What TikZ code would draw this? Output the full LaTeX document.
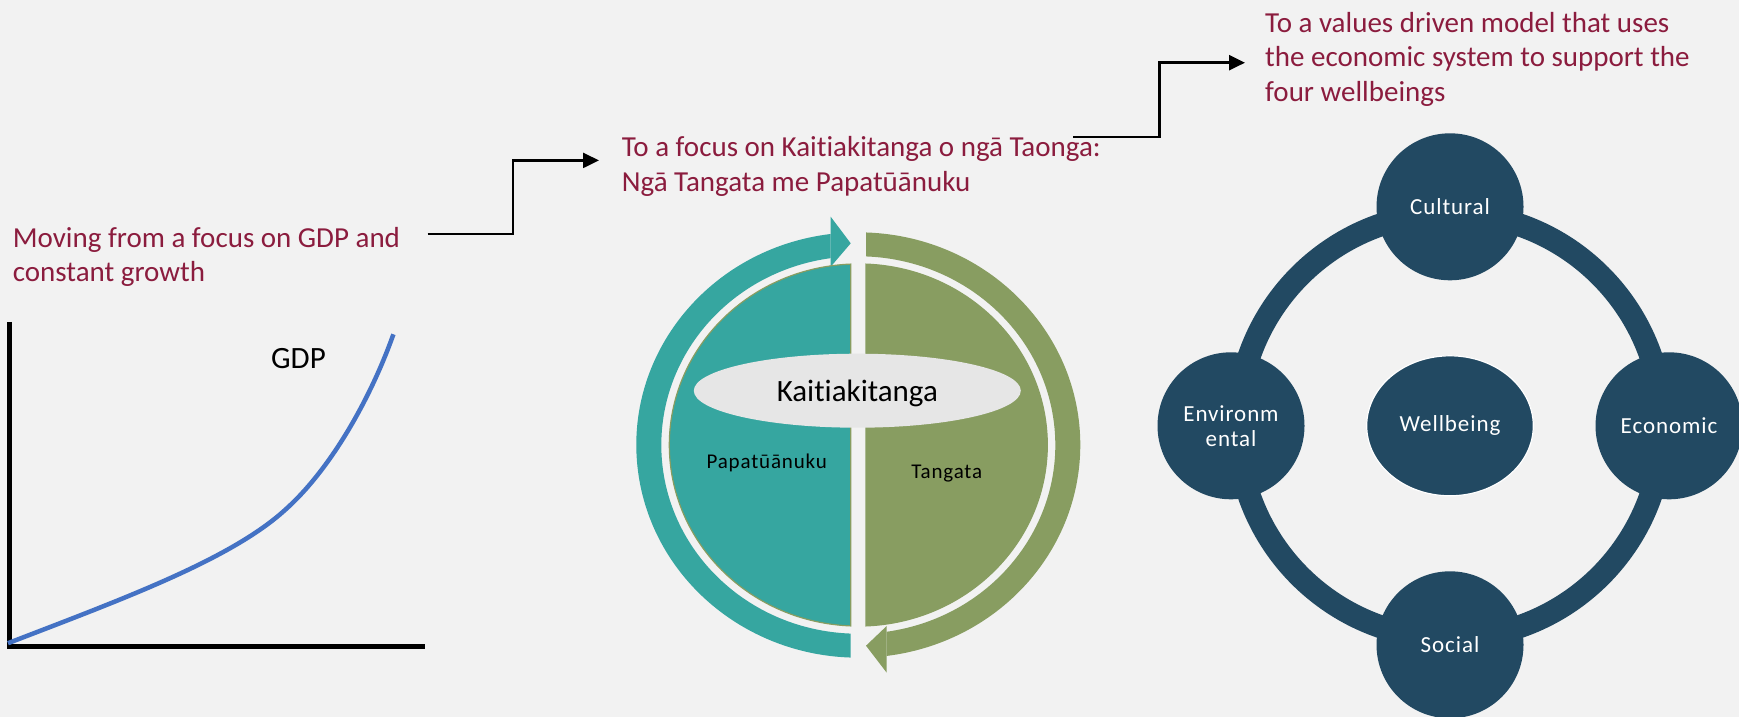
\documentclass[tikz,border=0pt]{standalone}
\usepackage{fontspec}
\setmainfont{Carlito}[Ligatures={TeX,NoCommon}]
\usetikzlibrary{arrows.meta,shapes.geometric}
\definecolor{bgc}{RGB}{242,242,242}
\definecolor{headc}{RGB}{139,28,62}
\definecolor{tealc}{RGB}{54,166,160}
\definecolor{greenc}{RGB}{136,157,97}
\definecolor{navyc}{RGB}{34,73,98}
\definecolor{ovalc}{RGB}{230,230,230}
\definecolor{gdpc}{RGB}{68,114,196}

\begin{document}
\begin{tikzpicture}[x=1pt,y=-1pt,
  % multi-line headings: the base anchor sits on the last line
  heading/.style={anchor=base west, inner sep=0pt, align=left, text=headc,
    font=\fontsize{29}{34.3}\selectfont},
  stepline/.style={line width=2.4pt, line join=miter,
    -{Triangle[length=16pt,width=15pt]}},
  ringnode/.style={circle, fill=navyc, minimum size=147pt, inner sep=0pt,
    text=white, align=center,
    font=\fontsize{23}{25}\selectfont\addfontfeatures{LetterSpace=4}},
  halflabel/.style={anchor=base, inner sep=0pt,
    font=\fontsize{21}{21}\selectfont\addfontfeatures{LetterSpace=4}},
]
% canvas
\fill[bgc] (0,0) rectangle (1739,717);
\useasboundingbox (0,0) rectangle (1739,717);

% ---------------- left: GDP growth ----------------
\node[heading] (t1) at (12.7,281.3) {Moving from a focus on GDP and\\constant growth};
\draw[line width=5pt, line join=miter] (9.9,321.8) |- (425,646.8);
\draw[gdpc, line width=4.5pt] (8,643.2)
  .. controls (120,600) and (230,560) .. (285,510)
  .. controls (330,470) and (370,400) .. (393.4,334.3);
\node[anchor=base, inner sep=0pt, font=\fontsize{31}{31}\selectfont] (gdp) at (298.5,368.2) {GDP};

\coordinate (s1) at (427.7,234);
\coordinate (e1) at (599,160.4);
\draw[stepline] (s1) -- ++(85.3,0) |- (e1);

% ---------------- middle: Kaitiakitanga ----------------
\node[heading] (t2) at (621.7,191.1) {To a focus on Kaitiakitanga o ngā Taonga:\\Ngā Tangata me Papatūānuku};

\begin{scope}[shift={(858.3,445)}, yscale=-0.958]
  % outer cycle arrows
  \fill[tealc] ({acos(-27.6/222)}:222)
    arc[start angle={acos(-27.6/222)}, end angle={360-acos(-7.6/222)}, radius=222]
    -- ({360-acos(-7.6/197)}:197)
    arc[start angle={360-acos(-7.6/197)}, end angle={acos(-27.6/197)}, radius=197]
    -- cycle;
  \fill[tealc] (-27.6,238.3) -- (-7.6,210.5) -- (-27.6,186.1) -- cycle;
  \fill[greenc] ({acos(7.7/222)}:222)
    arc[start angle={acos(7.7/222)}, end angle={-acos(28.4/222)}, radius=222]
    -- ({-acos(28.4/197)}:197)
    arc[start angle={-acos(28.4/197)}, end angle={acos(7.7/197)}, radius=197]
    -- cycle;
  \fill[greenc] (28.4,-188.9) -- (7.7,-209.5) -- (28.4,-237.7) -- cycle;
  % inner halves
  \filldraw[fill=tealc, draw=greenc, line width=1.2pt] ({acos(-7.6/189)}:189)
    arc[start angle={acos(-7.6/189)}, end angle={360-acos(-7.6/189)}, radius=189] -- cycle;
  \filldraw[fill=greenc, draw=greenc, line width=1.2pt] ({acos(7.7/189)}:189)
    arc[start angle={acos(7.7/189)}, end angle={-acos(7.7/189)}, radius=189] -- cycle;
\end{scope}

\node[ellipse, fill=ovalc, minimum width=327pt, minimum height=74pt, inner sep=0pt,
  text height=22pt, text depth=0pt, font=\fontsize{31}{31}\selectfont]
  (kaitiaki) at (857.3,390.7) {Kaitiakitanga};
\node[halflabel] (papa) at (766.7,468.3) {Papatūānuku};
\node[halflabel] (tangata) at (946.7,478.3) {Tangata};

\coordinate (s2) at (1073.4,136.7);
\coordinate (e2) at (1245,62.7);
\draw[stepline] (s2) -- ++(86.1,0) |- (e2);

% ---------------- right: four wellbeings ----------------
\node[heading] (t3) at (1265,101.1) {To a values driven model that uses\\the economic system to support the\\four wellbeings};

\draw[navyc, line width=23pt] (1450,425.8) circle[radius=212.5];
\node[ringnode] (cultural) at (1450,206.8) {Cultural};
\node[ringnode] (social) at (1450,644.8) {Social};
\node[ringnode] (environ) at (1231,425.8) {Environm\\ental};
\node[ringnode] (economic) at (1669,425.8) {Economic};
\node[ellipse, fill=navyc, draw=white, line width=1.2pt, minimum width=166.6pt,
  minimum height=140pt, inner sep=0pt, text=white,
  font=\fontsize{23}{25}\selectfont\addfontfeatures{LetterSpace=4}]
  (wellbeing) at (1450,425.8) {Wellbeing};
\end{tikzpicture}
\end{document}
